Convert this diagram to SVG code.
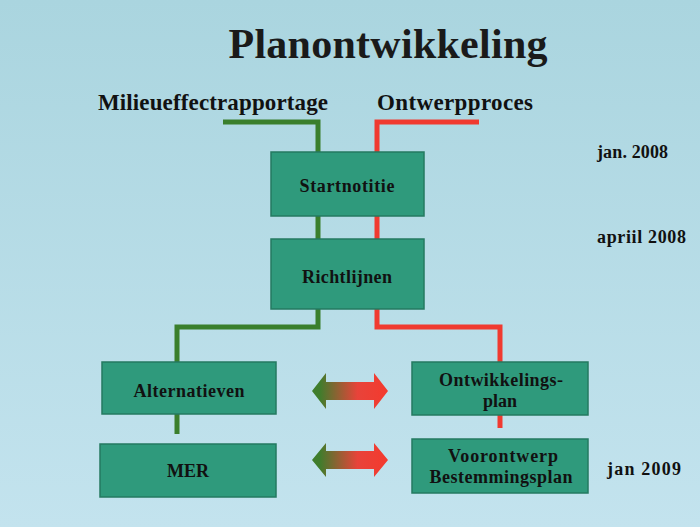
<svg xmlns="http://www.w3.org/2000/svg" width="700" height="527" viewBox="0 0 700 527">
<defs>
<linearGradient id="bg" x1="0" y1="0" x2="0" y2="1">
<stop offset="0" stop-color="#aad5df"/>
<stop offset="1" stop-color="#c3e3ee"/>
</linearGradient>
<linearGradient id="arr" x1="0" y1="0" x2="1" y2="0">
<stop offset="0.1" stop-color="#3f7d2c"/>
<stop offset="0.6" stop-color="#e8433a"/>
<stop offset="1" stop-color="#f43a2e"/>
</linearGradient>
<style>
.box{fill:#2f9a7c;stroke:#257a60;stroke-width:1.5}
.lbl{font-family:"Liberation Serif",serif;font-weight:bold;font-size:18px;fill:#111;text-anchor:middle}
.hdr{font-family:"Liberation Serif",serif;font-weight:bold;font-size:23px;fill:#111}
.date{font-family:"Liberation Serif",serif;font-weight:bold;font-size:18px;fill:#111}
.g{fill:none;stroke:#3a7f2c;stroke-width:5}
.r{fill:none;stroke:#f03a30;stroke-width:5}
</style>
</defs>
<rect width="700" height="527" fill="url(#bg)"/>
<text x="388" y="58" font-family="Liberation Serif, serif" font-weight="bold" font-size="42" fill="#1a1a1a" text-anchor="middle" textLength="319">Planontwikkeling</text>
<text class="hdr" x="98" y="110" textLength="230">Milieueffectrapportage</text>
<text class="hdr" x="377" y="110" textLength="156">Ontwerpproces</text>
<text class="date" x="597" y="158" textLength="71">jan. 2008</text>
<text class="date" x="597" y="243" textLength="89">apriil 2008</text>
<text class="date" x="607" y="475" textLength="74">jan  2009</text>
<g id="connectors">
<polyline class="g" points="223,122 318,122 318,152"/>
<polyline class="r" points="479,122 377,122 377,152"/>
<line class="g" x1="318" y1="216" x2="318" y2="239"/>
<line class="r" x1="377" y1="216" x2="377" y2="239"/>
<polyline class="g" points="318,308 318,327 177,327 177,362"/>
<polyline class="r" points="377,308 377,327 500,327 500,362"/>
<line class="g" x1="177" y1="414" x2="177" y2="434"/>
<line class="r" x1="500" y1="415" x2="500" y2="428"/>
<path fill="url(#arr)" d="M312,391 L326,373 L326,382 L374,382 L374,373 L388,391 L374,409 L374,400 L326,400 L326,409 Z"/>
<path fill="url(#arr)" d="M312,460 L326,443 L326,451 L374,451 L374,443 L388,460 L374,477 L374,469 L326,469 L326,477 Z"/>
</g>
<g id="startnotitie">
<rect class="box" x="271" y="152" width="153" height="64"/>
<text class="lbl" x="347" y="192" textLength="95">Startnotitie</text>
</g>
<g id="richtlijnen">
<rect class="box" x="271" y="239" width="153" height="70"/>
<text class="lbl" x="347" y="283" textLength="90">Richtlijnen</text>
</g>
<g id="alternatieven">
<rect class="box" x="102" y="362" width="174" height="52"/>
<text class="lbl" x="189" y="397" textLength="111">Alternatieven</text>
</g>
<g id="ontwikkelingsplan">
<rect class="box" x="412" y="362" width="176" height="53"/>
<text class="lbl" x="501" y="386" textLength="124">Ontwikkelings-</text>
<text class="lbl" x="500" y="407">plan</text>
</g>
<g id="mer">
<rect class="box" x="100" y="444" width="176" height="53" stroke="#1d5a48"/>
<text class="lbl" x="188" y="477">MER</text>
</g>
<g id="voorontwerp">
<rect class="box" x="412" y="439" width="176" height="54" stroke="#1d5a48"/>
<text class="lbl" x="503" y="462" textLength="110">Voorontwerp</text>
<text class="lbl" x="501" y="483" textLength="143">Bestemmingsplan</text>
</g>
</svg>
